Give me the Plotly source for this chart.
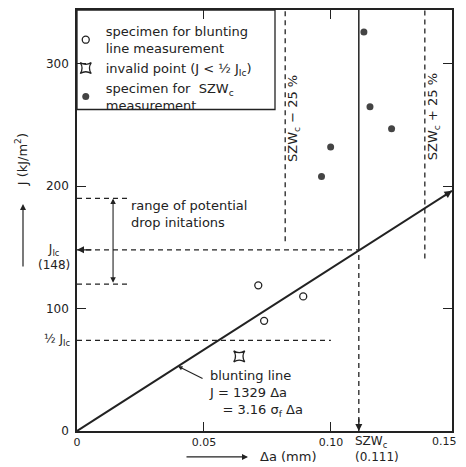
import plotly.graph_objects as go

# ---------------- data ----------------
blunt_da = [0.0714, 0.0891, 0.0737]          # specimen for blunting line measurement
blunt_J = [119, 110, 90]
invalid_da = [0.0639]                        # invalid point (J < 1/2 JIc)
invalid_J = [61]
szw_da = [0.1130, 0.1154, 0.1239, 0.0999, 0.0963]   # specimen for SZWc measurement
szw_J = [326, 265, 247, 232, 208]

BLUNT_SLOPE = 1329                 # J = 1329 * da
blunt_line_da = [0.0, 0.1477]
J_IC = 148
HALF_J_IC = 74
SZW_C = 0.111
SZW_LO = 0.082                     # SZWc - 25 %
SZW_HI = 0.137                     # SZWc + 25 %
PD_LO, PD_HI = 120, 190            # range of potential drop initiations

x_tickvals = [0, 0.05, 0.10]
x_ticktext = ["0", "0.05", "0.10"]
y_tickvals = [0, 100, 200, 300]
y_ticktext = ["0", "100", "200", "300"]

X_MAX = 0.1477
Y_MAX = 344

INK = "#222222"
FONT = "DejaVu Sans"

fig = go.Figure()

# blunting line
fig.add_trace(go.Scatter(
    x=blunt_line_da, y=[BLUNT_SLOPE * d for d in blunt_line_da],
    mode="lines", line=dict(color=INK, width=2), showlegend=False, hoverinfo="skip"))

fig.add_trace(go.Scatter(
    x=blunt_da, y=blunt_J, mode="markers",
    name="specimen for blunting<br>line measurement",
    marker=dict(symbol="circle-open", size=7, color=INK, line=dict(width=1.3))))
fig.add_trace(go.Scatter(
    x=invalid_da, y=invalid_J, mode="markers",
    name="invalid point (J < ½ J<sub>Ic</sub>)",
    marker=dict(symbol="star-square-open", size=10, color=INK, line=dict(width=1.3))))
fig.add_trace(go.Scatter(
    x=szw_da, y=szw_J, mode="markers",
    name="specimen for  SZW<sub>c</sub><br>measurement",
    marker=dict(symbol="circle", size=7, color="#444444")))

dash = "5px,4px"
shapes = [
    dict(type="line", xref="x", yref="y", x0=0, x1=SZW_C, y0=J_IC, y1=J_IC,
         line=dict(color=INK, width=1.3, dash=dash)),
    dict(type="line", xref="x", yref="y", x0=0, x1=0.100, y0=HALF_J_IC, y1=HALF_J_IC,
         line=dict(color=INK, width=1.3, dash=dash)),
    dict(type="line", xref="x", yref="y", x0=0, x1=0.0197, y0=PD_HI, y1=PD_HI,
         line=dict(color=INK, width=1.3, dash=dash)),
    dict(type="line", xref="x", yref="y", x0=0, x1=0.0197, y0=PD_LO, y1=PD_LO,
         line=dict(color=INK, width=1.3, dash=dash)),
    dict(type="line", xref="x", yref="y", x0=SZW_C, x1=SZW_C, y0=J_IC, y1=Y_MAX,
         line=dict(color=INK, width=1.5)),
    dict(type="line", xref="x", yref="y", x0=SZW_C, x1=SZW_C, y0=0, y1=J_IC,
         line=dict(color=INK, width=1.3, dash=dash)),
    dict(type="line", xref="x", yref="y", x0=SZW_LO, x1=SZW_LO, y0=155, y1=Y_MAX,
         line=dict(color=INK, width=1.3, dash=dash)),
    dict(type="line", xref="x", yref="y", x0=SZW_HI, x1=SZW_HI, y0=141, y1=Y_MAX,
         line=dict(color=INK, width=1.3, dash=dash)),
    # legend box
    dict(type="rect", xref="paper", yref="paper", x0=0, x1=0.528, y0=0.7636, y1=1,
         line=dict(color=INK, width=1.3), fillcolor="rgba(0,0,0,0)"),
]

tf = dict(family=FONT, size=13, color=INK)
ann = []
ann.append(dict(x=0, y=J_IC, xref="x", yref="y", ax=16, ay=0, text="", showarrow=True,
                arrowhead=2, arrowsize=1, arrowwidth=1.4, arrowcolor=INK))
ann.append(dict(x=SZW_C, y=0, xref="x", yref="y", ax=0, ay=-14, text="", showarrow=True,
                arrowhead=2, arrowsize=1, arrowwidth=1.4, arrowcolor=INK))
ann.append(dict(x=0.0142, y=PD_HI, xref="x", yref="y", ax=0.0142, ay=PD_LO, axref="x", ayref="y",
                text="", showarrow=True, arrowhead=2, arrowside="end+start", arrowsize=1,
                arrowwidth=1.1, arrowcolor=INK))
ann.append(dict(x=blunt_line_da[1], y=BLUNT_SLOPE * blunt_line_da[1], xref="x", yref="y",
                ax=-9, ay=6, text="", showarrow=True, arrowhead=2, arrowsize=1,
                arrowwidth=1.5, arrowcolor=INK))
ann.append(dict(x=0.0398, y=BLUNT_SLOPE * 0.0398, xref="x", yref="y", ax=26, ay=13,
                text="", showarrow=True, arrowhead=2, arrowsize=0.8, arrowwidth=1.1,
                arrowcolor=INK))
ann.append(dict(x=0.0512, y=31, xref="x", yref="y", xanchor="left", yanchor="middle",
                align="left", showarrow=False, font=tf,
                text="blunting line<br>J = 1329 Δa<br>\u00a0\u00a0\u00a0= 3.16 σ<sub>f</sub> Δa"))
ann.append(dict(x=0.0205, y=177, xref="x", yref="y", xanchor="left", yanchor="middle",
                align="left", showarrow=False, font=tf,
                text="range of potential<br>drop initations"))
ann.append(dict(x=0.0855, y=255, xref="x", yref="y", textangle=-90, showarrow=False, font=tf,
                xanchor="center", yanchor="middle", text="SZW<sub>c</sub> − 25 %"))
ann.append(dict(x=0.1405, y=257, xref="x", yref="y", textangle=-90, showarrow=False, font=tf,
                xanchor="center", yanchor="middle", text="SZW<sub>c</sub> + 25 %"))
ann.append(dict(x=-0.014, y=142, xref="paper", yref="y", xanchor="right", yanchor="middle",
                align="center", showarrow=False, font=dict(family=FONT, size=12, color=INK),
                text="J<sub>Ic</sub><br>(148)"))
ann.append(dict(x=-0.014, y=HALF_J_IC, xref="paper", yref="y", xanchor="right", yanchor="middle",
                showarrow=False, font=dict(family=FONT, size=12, color=INK),
                text="½ J<sub>Ic</sub>"))
ann.append(dict(x=1.0, y=0, xref="paper", yref="paper", xanchor="right", yanchor="top",
                xshift=7, yshift=-2, showarrow=False, font=dict(family=FONT, size=11, color=INK),
                text="0.15"))
ann.append(dict(x=0.736, y=0, xref="paper", yref="paper", xanchor="left", yanchor="top",
                yshift=-1, align="left", showarrow=False, font=dict(family=FONT, size=12, color=INK),
                text="SZW<sub>c</sub><br>(0.111)"))
ann.append(dict(x=-0.147, y=0.645, xref="paper", yref="paper", textangle=-90, showarrow=False,
                xanchor="center", yanchor="middle",
                font=dict(family=FONT, size=13, color=INK), text="J (kJ/m<sup>2</sup>)"))
ann.append(dict(x=-0.144, y=0.539, xref="paper", yref="paper", ax=0, ay=64, text="",
                showarrow=True, arrowhead=2, arrowsize=1, arrowwidth=1.2, arrowcolor=INK))
ann.append(dict(x=0.4827, y=-0.0615, xref="paper", yref="paper", xanchor="left",
                yanchor="middle", showarrow=False, font=dict(family=FONT, size=13, color=INK),
                text="Δa (mm)"))
ann.append(dict(x=0.456, y=-0.0615, xref="paper", yref="paper", ax=-63, ay=0, text="",
                showarrow=True, arrowhead=2, arrowsize=1, arrowwidth=1.2, arrowcolor=INK))

axis_common = dict(showline=True, linecolor=INK, linewidth=1.6, mirror="ticks",
                   ticks="inside", ticklen=9, tickwidth=1.2, tickcolor=INK,
                   showgrid=False, zeroline=False)

# page body has an 8px margin -> compensate so the plot area sits at x 77..452, y 8..431
fig.update_layout(
    width=458, height=459,
    margin=dict(l=69, r=14, t=0, b=36),
    paper_bgcolor="white", plot_bgcolor="white",
    font=dict(family=FONT, color=INK),
    xaxis=dict(range=[0, X_MAX], tickvals=x_tickvals, ticktext=x_ticktext,
               tickfont=dict(family=FONT, size=11, color=INK), **axis_common),
    yaxis=dict(range=[0, Y_MAX], tickvals=y_tickvals, ticktext=y_ticktext,
               tickfont=dict(family=FONT, size=12, color=INK), ticklabelstandoff=4,
               **axis_common),
    shapes=shapes,
    annotations=ann,
    showlegend=True,
    legend=dict(x=-0.03, y=0.985, xanchor="left", yanchor="top",
                bgcolor="rgba(0,0,0,0)", borderwidth=0,
                font=dict(family=FONT, size=13, color=INK),
                tracegroupgap=0, itemwidth=30),
)

fig.write_html("out.html")
